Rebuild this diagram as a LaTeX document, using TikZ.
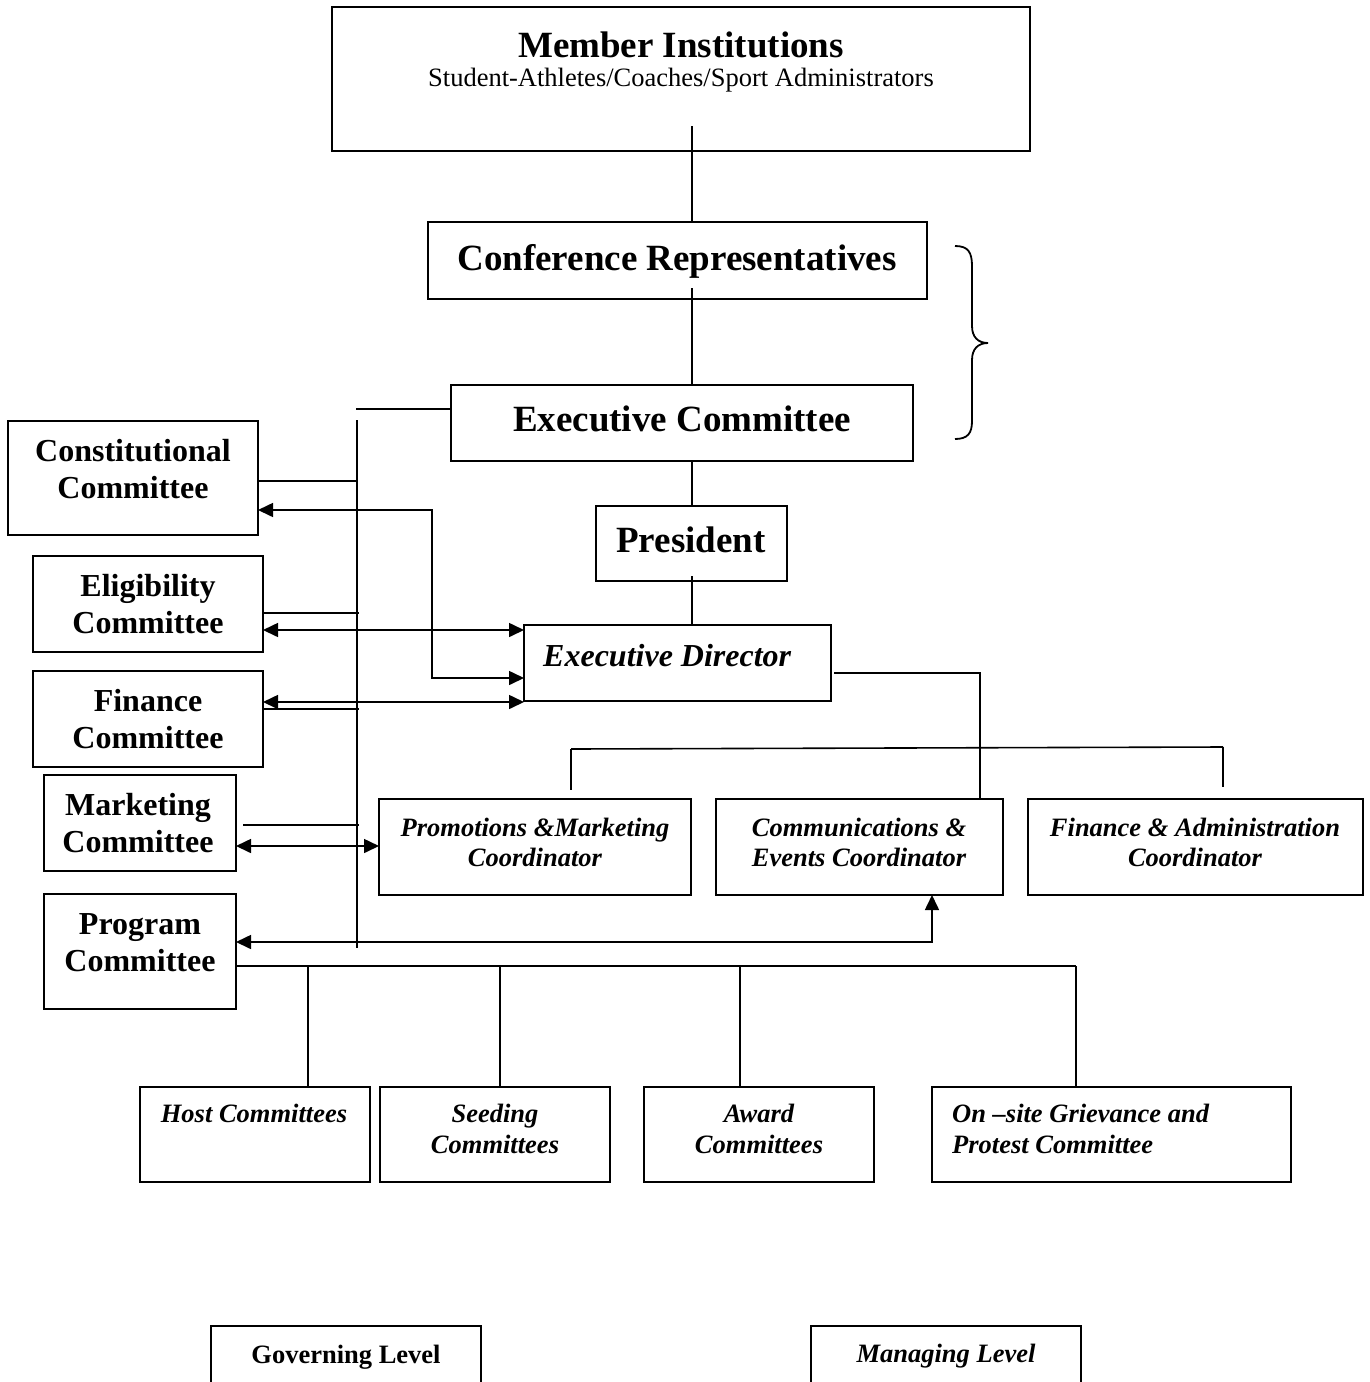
\documentclass[tikz,border=0pt]{standalone}
\usepackage{fontspec}
\setmainfont{Liberation Serif}
\usetikzlibrary{arrows.meta}
\begin{document}
\begin{tikzpicture}[x=1pt,y=-1pt,
  box/.style={draw, line width=1.8pt, inner sep=0pt, outer sep=0pt},
  ln/.style={line width=1.6pt},
  darr/.style={line width=1.6pt, {Triangle[length=15pt,width=14pt]}-{Triangle[length=15pt,width=14pt]}},
  big/.style={font=\fontsize{37}{42}\selectfont\bfseries, inner sep=0pt},
  sub/.style={font=\fontsize{26.5}{30}\selectfont, inner sep=0pt},
  cmt/.style={font=\fontsize{32}{37}\selectfont\bfseries, align=center, inner sep=0pt},
  edt/.style={font=\fontsize{32}{37}\selectfont\bfseries\itshape, inner sep=0pt},
  crd/.style={font=\fontsize{26.5}{30}\selectfont\bfseries\itshape, align=center, inner sep=0pt},
  bot/.style={font=\fontsize{26.5}{31}\selectfont\bfseries\itshape, align=center, inner sep=0pt},
  lvl/.style={font=\fontsize{26.5}{31}\selectfont\bfseries, inner sep=0pt}
]
\useasboundingbox (0,0) rectangle (1370,1382);
\fill[white] (0,0) rectangle (1370,1382);
\clip (0,0) rectangle (1370,1382);

% ---------- boxes ----------
\node[box, minimum width=698pt, minimum height=144pt] (mi) at (681,79) {};
\node[box, minimum width=499pt, minimum height=77pt] (cr) at (677.5,260.5) {};
\node[box, minimum width=462pt, minimum height=76pt] (ec) at (682,423) {};
\node[box, minimum width=191pt, minimum height=75pt] (pres) at (691.5,543.5) {};
\node[box, minimum width=307pt, minimum height=76pt] (ed) at (677.5,663) {};

\node[box, minimum width=312pt, minimum height=96pt] (pm) at (535,847) {};
\node[box, minimum width=287pt, minimum height=96pt] (ce) at (859.5,847) {};
\node[box, minimum width=335pt, minimum height=96pt] (fa) at (1195.5,847) {};

\node[box, minimum width=250pt, minimum height=114pt] (con) at (133,478) {};
\node[box, minimum width=230pt, minimum height=96pt] (eli) at (148,604) {};
\node[box, minimum width=230pt, minimum height=96pt] (fin) at (148,719) {};
\node[box, minimum width=192pt, minimum height=96pt] (mkt) at (140,823) {};
\node[box, minimum width=192pt, minimum height=115pt] (prog) at (140,951.5) {};

\node[box, minimum width=230pt, minimum height=95pt] (host) at (255,1134.5) {};
\node[box, minimum width=230pt, minimum height=95pt] (seed) at (495,1134.5) {};
\node[box, minimum width=230pt, minimum height=95pt] (award) at (759,1134.5) {};
\node[box, minimum width=359pt, minimum height=95pt] (onsite) at (1111.5,1134.5) {};

\node[box, minimum width=270pt, minimum height=100pt] (gov) at (346,1376) {};
\node[box, minimum width=270pt, minimum height=100pt] (man) at (946,1376) {};

% ---------- texts ----------
\node[big, anchor=base] (mi-t) at (681,57) {Member Institutions};
\node[sub, anchor=base] (mi-s) at (681,86) {Student-Athletes/Coaches/Sport Administrators};
\node[big, anchor=base] (cr-t) at (677,270) {Conference Representatives};
\node[big, anchor=base] (ec-t) at (682,431) {Executive Committee};
\node[big, anchor=base] (pres-t) at (691,552) {President};
\node[edt, anchor=base west] (ed-t) at (543,666) {Executive Director};

\node[crd] (pm-t) at (535,842) {Promotions \&Marketing\\Coordinator};
\node[crd] (ce-t) at (859,842) {Communications \&\\Events Coordinator};
\node[crd] (fa-t) at (1195,842) {Finance \& Administration\\Coordinator};

\node[cmt] (con-t) at (133,469) {Constitutional\\Committee};
\node[cmt] (eli-t) at (148,604) {Eligibility\\Committee};
\node[cmt] (fin-t) at (148,719) {Finance\\Committee};
\node[cmt] (mkt-t) at (138,823) {Marketing\\Committee};
\node[cmt] (prog-t) at (140,943) {Program\\Committee};

\node[bot, anchor=base] (host-t) at (254,1122) {Host Committees};
\node[bot] (seed-t) at (495,1129) {Seeding\\Committees};
\node[bot] (award-t) at (759,1129) {Award\\Committees};
\node[bot, align=left, anchor=west] (onsite-t) at (952,1129) {On –site Grievance and\\Protest Committee};

\node[lvl, anchor=base] (gov-t) at (346,1363) {Governing Level};
\node[lvl, font=\fontsize{26.5}{31}\selectfont\bfseries\itshape, anchor=base] (man-t) at (946,1362) {Managing Level};

% ---------- brace ----------
\draw[line width=1.8pt] (955,246) .. controls (968,246) and (972,252) .. (972,266)
  -- (972,326) .. controls (972,337) and (978,343) .. (988,343)
  .. controls (978,343) and (972,349) .. (972,360)
  -- (972,421) .. controls (972,433) and (968,439) .. (955,439);

% ---------- main spine ----------
\coordinate (mi-stem) at (692,126);
\draw[ln] (mi-stem) -- (mi-stem |- cr.north);
\coordinate (cr-stem) at (692,288);
\draw[ln] (cr-stem) -- (cr-stem |- ec.north);
\coordinate (ec-stem) at (692,461);
\draw[ln] (ec-stem) -- (ec-stem |- pres.north);
\coordinate (pres-stem) at (692,576);
\draw[ln] (pres-stem) -- (pres-stem |- ed.north);

% ---------- executive director to coordinators ----------
\coordinate (ed-out) at (834,673);
\coordinate (hub) at (980,748);
\coordinate (barL) at (571,749);
\coordinate (barR) at (1223,747);
\draw[ln] (ed-out) -- (ed-out -| hub) -- (hub);
\draw[ln] (barL) -- (barR);
\draw[ln] (barL) -- ++(0,41);
\draw[ln] (barR) -- ++(0,40);
\draw[ln] (hub) -- (hub |- ce.north);

% ---------- committee spine ----------
\coordinate (ec-stub) at (356,409);
\coordinate (sp-top) at (357,420);
\coordinate (sp-bot) at (357,948);
\draw[ln] (ec-stub) -- (ec-stub -| ec.west);
\draw[ln] (sp-top) -- (sp-bot);

\coordinate (sp-con) at (357,481);
\draw[ln] (sp-con -| con.east) -- (sp-con);
\coordinate (sp-eli) at (359,613);
\draw[ln] (sp-eli -| eli.east) -- (sp-eli);
\coordinate (sp-fin) at (359,709);
\draw[ln] (sp-fin -| fin.east) -- (sp-fin);
\coordinate (sp-mkt) at (359,825);
\coordinate (mkt-gap) at (243,825);
\draw[ln] (mkt-gap) -- (sp-mkt);

% ---------- double arrows ----------
\coordinate (con-turn) at (432,510);
\coordinate (ed-in2) at (524,678);
\draw[darr] (con-turn -| con.east) -- (con-turn) -- (con-turn |- ed-in2) -- (ed-in2);
\coordinate (eli-arr) at (263,630);
\draw[darr] (eli-arr -| eli.east) -- (eli-arr -| ed.west);
\coordinate (fin-arr) at (263,702);
\draw[darr] (fin-arr -| fin.east) -- (fin-arr -| ed.west);
\coordinate (mkt-arr) at (236,846);
\draw[darr] (mkt-arr -| mkt.east) -- (mkt-arr -| pm.west);
\coordinate (pr-turn) at (932,942);
\draw[darr] (pr-turn -| prog.east) -- (pr-turn) -- (pr-turn |- ce.south);

% ---------- program committee to sub-committees ----------
\coordinate (pb) at (236,966);
\coordinate (d1) at (308,966);
\coordinate (d2) at (500,966);
\coordinate (d3) at (740,966);
\coordinate (d4) at (1076,966);
\draw[ln] (pb -| prog.east) -- (d4);
\draw[ln] (d1) -- (d1 |- host.north);
\draw[ln] (d2) -- (d2 |- seed.north);
\draw[ln] (d3) -- (d3 |- award.north);
\draw[ln] (d4) -- (d4 |- onsite.north);
\end{tikzpicture}
\end{document}
